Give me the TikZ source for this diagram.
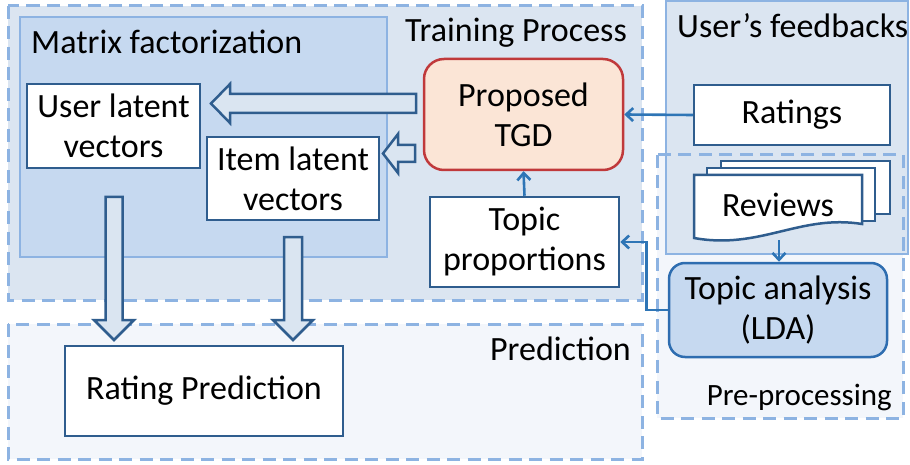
\documentclass[tikz,border=0pt]{standalone}
\usepackage{fontspec}
\setmainfont{Carlito}
\usetikzlibrary{arrows.meta,calc}

\definecolor{framedash}{HTML}{8DB3E2}
\definecolor{trainfill}{HTML}{DBE5F1}
\definecolor{mffill}{HTML}{C6D9F0}
\definecolor{palefill}{HTML}{F3F6FB}
\definecolor{nodeline}{HTML}{2F5D8E}
\definecolor{connline}{HTML}{2E75B6}
\definecolor{tgdfill}{HTML}{FBE5D6}
\definecolor{tgdline}{HTML}{C0393B}
\definecolor{ldafill}{HTML}{C6D9F0}
\definecolor{ldaline}{HTML}{2E6DB0}
\definecolor{arrowfill}{HTML}{DAE5F1}

\tikzset{
  lbl/.style={font=\fontsize{34}{40}\selectfont, inner sep=0pt},
  panel/.style={draw=framedash, line width=3pt, dash pattern=on 13pt off 7.5pt},
  solidpanel/.style={draw=framedash, line width=2pt},
  box/.style={draw=nodeline, fill=white, line width=2.5pt, align=center,
    font=\fontsize{34}{40}\selectfont, inner sep=0pt},
  page/.style={draw=nodeline, fill=white, line width=2.5pt},
  blockarrow/.style={draw=nodeline, fill=arrowfill, line width=2.5pt, line join=miter},
  conn/.style={draw=connline, line width=2.6pt, -{Straight Barb[length=7pt,width=13pt]}},
}

\begin{document}
\begin{tikzpicture}[x=1pt,y=-1pt]
\useasboundingbox (0,0) rectangle (910,465);

% ---- panels ----
\fill[trainfill] (8,6) rectangle (642,300);
\draw[panel] (8,6) rectangle (642,300);
\fill[palefill] (8,324) rectangle (642,459);
\draw[panel] (8,324) rectangle (642,459);
\fill[palefill] (657,155) rectangle (903,418);
\draw[solidpanel, fill=trainfill] (666,1) rectangle (908,254);
\draw[panel] (657,155) rectangle (903,418);
\draw[solidpanel, fill=mffill] (20,17) rectangle (387,257);

% ---- panel titles ----
\node[lbl, anchor=base west] (mflabel) at (31,54) {Matrix factorization};
\node[lbl, anchor=base west] (trainlabel) at (405,42) {Training Process};
\node[lbl, anchor=base west] (fblabel) at (677,38) {User’s feedbacks};
\node[lbl, anchor=base east] (predlabel) at (631,360) {Prediction};
\node[lbl, font=\fontsize{31}{38}\selectfont, anchor=base east] (prelabel) at (892,405) {Pre-processing};

% ---- boxes ----
\node[box, minimum width=173pt, minimum height=84pt] (user) at (113.5,126) {User latent\\vectors};
\node[box, minimum width=172pt, minimum height=83pt] (item) at (293,178.5) {Item latent\\vectors};
\node[box, draw=tgdline, fill=tgdfill, rounded corners=20pt,
      minimum width=199pt, minimum height=111pt] (tgd) at (523.5,114.5) {Proposed\\TGD};
\node[box, minimum width=189pt, minimum height=90pt] (topics) at (524.5,242) {Topic\\proportions};
\node[box, minimum width=196pt, minimum height=60pt] (ratings) at (792,115) {Ratings};
\node[box, draw=ldaline, fill=ldafill, rounded corners=16pt,
      minimum width=218pt, minimum height=94pt] (lda) at (778,310) {Topic analysis\\(LDA)};
\node[box, minimum width=278pt, minimum height=90pt] (pred) at (204,391) {Rating Prediction};

% ---- stacked review documents ----
\draw[page] (721,161) rectangle (890,214);
\draw[page] (707,168) rectangle (875,221);
\draw[page] (694,175) -- (862,175) -- (862,224)
  .. controls (800,214) and (760,250) .. (694,238) -- cycle;
\node[lbl, anchor=base] (reviews) at (778,217) {Reviews};
\coordinate (revbottom) at (779,240);

% ---- block arrows ----
\draw[blockarrow] (416,94) -- (230,94) -- (230,84) -- (211,103.5) -- (230,123)
  -- (230,113) -- (416,113) -- cycle;
\draw[blockarrow] (415,145) -- (398,145) -- (398,134) -- (383,153.5) -- (398,173)
  -- (398,162) -- (415,162) -- cycle;
\draw[blockarrow] (105.5,197) -- (105.5,320) -- (94,320) -- (114,340) -- (134,320)
  -- (122.5,320) -- (122.5,197) -- cycle;
\draw[blockarrow] (284,237) -- (284,320) -- (273,320) -- (293,340) -- (313,320)
  -- (302,320) -- (302,237) -- cycle;

% ---- connectors ----
\draw[conn] (ratings.west) -- (tgd.east);
\draw[conn] (topics.north) -- (tgd.south);
\draw[conn] (revbottom) -- (revbottom |- lda.north);
\draw[conn] (lda.west) -- ++(-21,0) |- (topics.east);
\end{tikzpicture}
\end{document}
